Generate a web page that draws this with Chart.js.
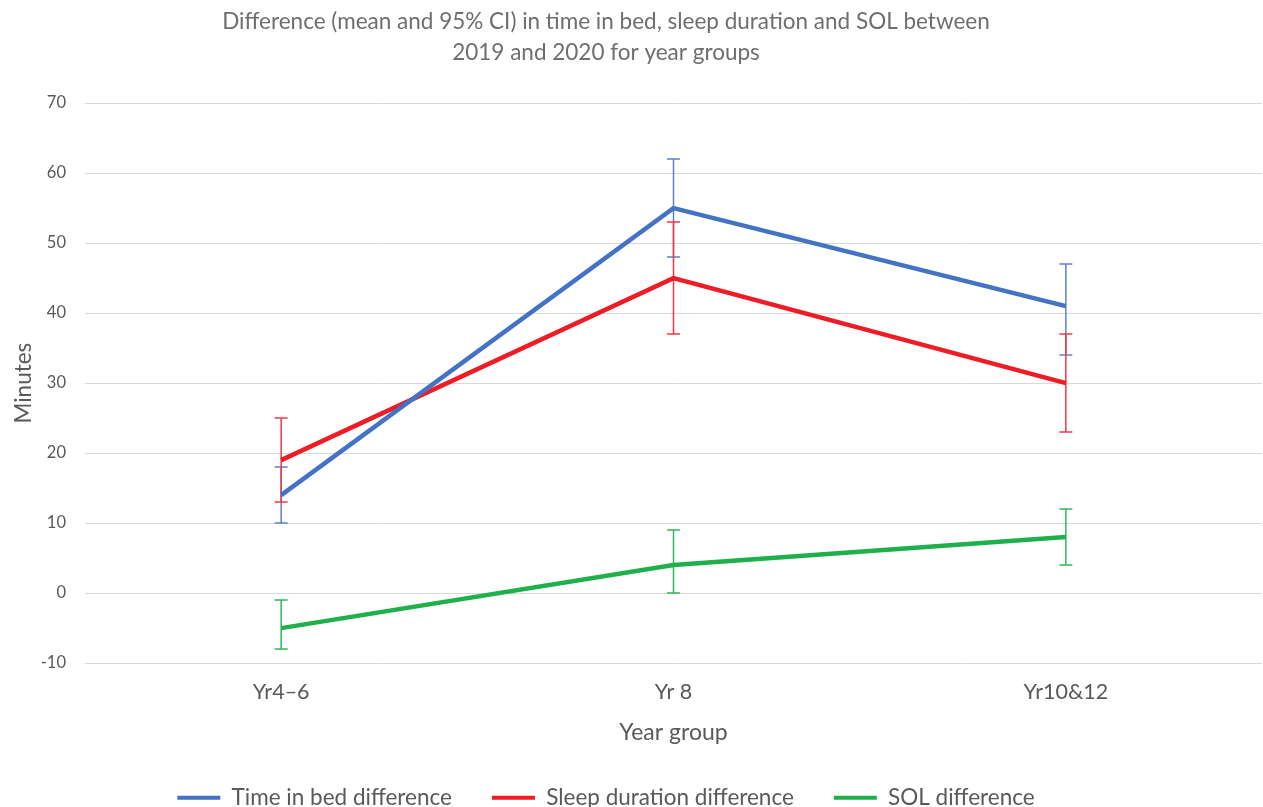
<!DOCTYPE html>
<html>
<head>
<meta charset="utf-8">
<script src="https://cdn.jsdelivr.net/npm/chart.js@4"></script>
<style>
html,body{margin:0;padding:0;background:#fff;overflow:hidden;width:1263px;height:807px;}
#wrap{position:absolute;left:-50px;top:0;width:1313px;height:819px;}
</style>
</head>
<body>
<div id="wrap"><canvas id="c"></canvas></div>
<script>
const categories = ['Yr4–6', 'Yr 8', 'Yr10&12'];
const timeInBed = [14, 55, 41];
const timeInBedLow = [10, 48, 34];
const timeInBedHigh = [18, 62, 47];
const sleepDuration = [19, 45, 30];
const sleepDurationLow = [13, 37, 23];
const sleepDurationHigh = [25, 53, 37];
const solDiff = [-5, 4, 8];
const solDiffLow = [-8, 0, 4];
const solDiffHigh = [-1, 9, 12];
const yMin = -10, yMax = 70, yStep = 10;

const FONT = 'Lato, "Open Sans", sans-serif';
const BLUE = '#4472C4', RED = '#EE1C25', GREEN = '#1FB04C';

const errorBars = {
  id: 'errorBars',
  beforeDatasetsDraw(chart) {
    const ctx = chart.ctx, y = chart.scales.y;
    chart.data.datasets.forEach((ds, i) => {
      const meta = chart.getDatasetMeta(i);
      ctx.save();
      ctx.strokeStyle = ds.errColor;
      ctx.lineWidth = 1.5;
      meta.data.forEach((pt, j) => {
        const x = pt.x;
        const yl = y.getPixelForValue(ds.low[j]);
        const yh = y.getPixelForValue(ds.high[j]);
        ctx.beginPath();
        ctx.moveTo(x, yl); ctx.lineTo(x, yh);
        ctx.moveTo(x - 6.5, yl); ctx.lineTo(x + 6.5, yl);
        ctx.moveTo(x - 6.5, yh); ctx.lineTo(x + 6.5, yh);
        ctx.stroke();
      });
      ctx.restore();
    });
  }
};

function mk(label, data, low, high, color, errColor) {
  return {
    label, data, low, high, errColor,
    borderColor: color, backgroundColor: color,
    borderWidth: 4.5, pointRadius: 0, pointHoverRadius: 0,
    tension: 0, fill: false
  };
}

new Chart(document.getElementById('c'), {
  type: 'line',
  data: {
    labels: categories,
    datasets: [
      mk('Time in bed difference', timeInBed, timeInBedLow, timeInBedHigh, BLUE, '#5B83CC'),
      mk('Sleep duration difference', sleepDuration, sleepDurationLow, sleepDurationHigh, RED, '#EF3A44'),
      mk('SOL difference', solDiff, solDiffLow, solDiffHigh, GREEN, '#2DB85A')
    ]
  },
  plugins: [errorBars],
  options: {
    responsive: true,
    maintainAspectRatio: false,
    animation: false,
    layout: { padding: { left: 0, right: 1, top: 0, bottom: 0 } },
    plugins: {
      title: {
        display: true,
        text: ['Difference (mean and 95% CI) in time in bed, sleep duration and SOL between', '2019 and 2020 for year groups'],
        color: '#6E6E6E',
        font: { family: FONT, size: 22.5, weight: 'normal', lineHeight: 1.38 },
        padding: { top: 6.5, bottom: 34.5 }
      },
      legend: {
        position: 'bottom',
        labels: {
          color: '#595959',
          font: { family: FONT, size: 22.5 },
          boxWidth: 43, boxHeight: 4,
          padding: 40,
          generateLabels(chart) {
            return chart.data.datasets.map((ds, i) => ({
              text: ds.label, fillStyle: ds.borderColor, strokeStyle: ds.borderColor,
              lineWidth: 0, hidden: false, datasetIndex: i, fontColor: '#595959'
            }));
          }
        }
      },
      tooltip: { enabled: false }
    },
    scales: {
      x: {
        offset: true,
        grid: { display: false, drawTicks: false },
        border: { display: false },
        ticks: { color: '#595959', font: { family: FONT, size: 21.5 }, padding: 16 },
        title: { display: true, text: 'Year group', color: '#595959', font: { family: FONT, size: 23 }, padding: { top: -2, bottom: 0 } }
      },
      y: {
        min: yMin, max: yMax,
        grid: { color: '#D9D9D9', lineWidth: 1, drawTicks: false },
        border: { display: false },
        ticks: { stepSize: yStep, color: '#595959', font: { family: FONT, size: 16.5 }, padding: 19 },
        title: { display: true, text: 'Minutes', color: '#595959', font: { family: FONT, size: 22.5 }, padding: { top: 60, bottom: 0 } },
        afterFit(scale) { scale.width = 135; }
      }
    }
  }
});
</script>
</body>
</html>
